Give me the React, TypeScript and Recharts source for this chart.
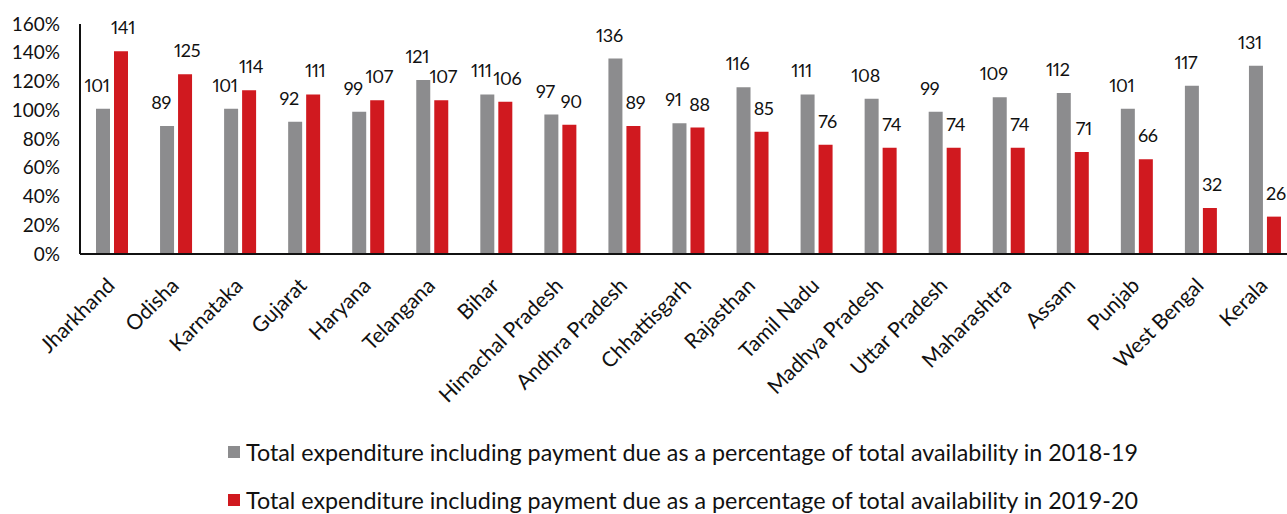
import React from 'react';
import { BarChart, Bar, XAxis, YAxis, Legend, LabelList } from 'recharts';

const states = ['Jharkhand', 'Odisha', 'Karnataka', 'Gujarat', 'Haryana', 'Telangana', 'Bihar', 'Himachal Pradesh', 'Andhra Pradesh', 'Chhattisgarh', 'Rajasthan', 'Tamil Nadu', 'Madhya Pradesh', 'Uttar Pradesh', 'Maharashtra', 'Assam', 'Punjab', 'West Bengal', 'Kerala'];
const values2018 = [101, 89, 101, 92, 99, 121, 111, 97, 136, 91, 116, 111, 108, 99, 109, 112, 101, 117, 131];
const values2020 = [141, 125, 114, 111, 107, 107, 106, 90, 89, 88, 85, 76, 74, 74, 74, 71, 66, 32, 26];
const yTicks = [0, 20, 40, 60, 80, 100, 120, 140, 160];
const seriesNames = [
  'Total expenditure including payment due as a percentage of total availability in 2018-19',
  'Total expenditure including payment due as a percentage of total availability in 2019-20',
];
const GRAY = '#8c8c8e';
const RED = '#d0191f';
const FONT = 'Lato, "Open Sans", sans-serif';

const data = states.map((s, i) => ({ state: s, a: values2018[i], b: values2020[i] }));

const XTick = (props: any) => {
  const { x, y, payload } = props;
  const tx = x + 4;
  const ty = y + 25;
  return (
    <text x={tx} y={ty} textAnchor="end" transform={`rotate(-45 ${tx} ${ty})`} fontSize={21} fontFamily={FONT} fill="#111">
      {payload.value}
    </text>
  );
};

const makeLabel = (dx: number) => (props: any) => {
  const { x, y, width, value } = props;
  return (
    <text
      x={x + width / 2 + dx}
      y={y - 17}
      textAnchor="middle"
      fontSize={18}
      fontFamily={FONT}
      fill="#111"
      style={{ fontVariantNumeric: 'proportional-nums', letterSpacing: -0.3 }}
    >
      {value}
    </text>
  );
};

const LegendContent = () => (
  <div style={{ paddingLeft: 228, paddingTop: 8, fontFamily: FONT, fontSize: 23.3, color: '#111', boxSizing: 'border-box', height: 84 }}>
    {[GRAY, RED].map((c, i) => (
      <div key={i} style={{ height: 28, marginBottom: i === 0 ? 20 : 0, display: 'flex', alignItems: 'center', whiteSpace: 'nowrap' }}>
        <span style={{ display: 'inline-block', width: 12, height: 12, background: c, marginRight: 6 }} />
        <span>{seriesNames[i]}</span>
      </div>
    ))}
  </div>
);

export default function App() {
  return (
    <div style={{ position: 'absolute', left: 0, top: 0, width: 1287, height: 514, overflow: 'hidden', background: '#fff' }}>
      <BarChart width={1300} height={514} data={data} margin={{ top: 24, right: 3, left: 0, bottom: 0 }} barSize={14} barGap={4}>
        <XAxis dataKey="state" interval={0} height={176} tick={<XTick />} tickLine={false} axisLine={{ stroke: '#111', strokeWidth: 2 }} />
        <YAxis
          width={80}
          domain={[0, 160]}
          ticks={yTicks}
          tickFormatter={(v: number) => `${v}%`}
          tickLine={false}
          axisLine={{ stroke: '#111', strokeWidth: 2 }}
          tickMargin={14}
          tick={{ fontSize: 19, fontFamily: FONT, fill: '#111' }}
        />
        <Legend verticalAlign="bottom" align="left" content={<LegendContent />} wrapperStyle={{ height: 84 }} />
        <Bar dataKey="a" name={seriesNames[0]} fill={GRAY} isAnimationActive={false}>
          <LabelList dataKey="a" content={makeLabel(-6)} />
        </Bar>
        <Bar dataKey="b" name={seriesNames[1]} fill={RED} isAnimationActive={false}>
          <LabelList dataKey="b" content={makeLabel(2)} />
        </Bar>
      </BarChart>
    </div>
  );
}
